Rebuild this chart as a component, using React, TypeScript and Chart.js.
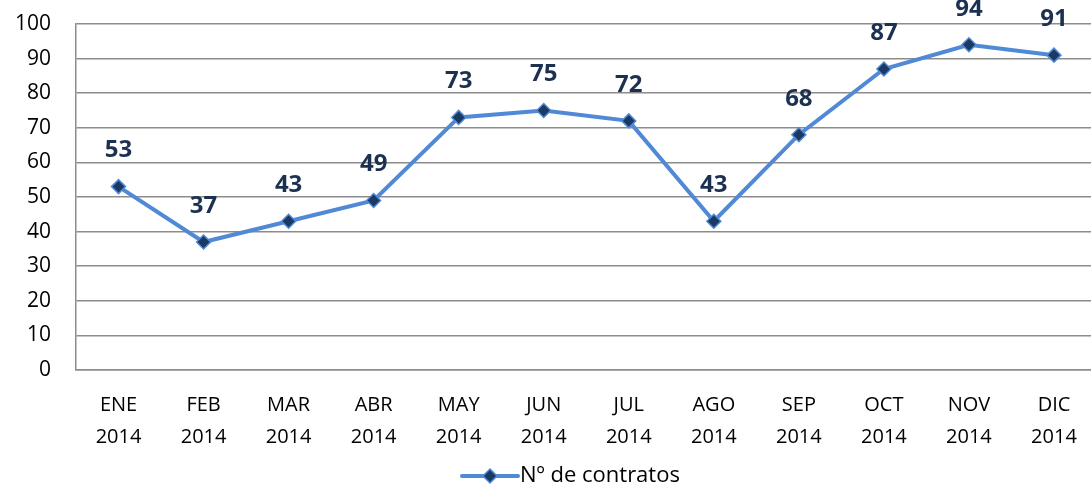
import React, { useEffect, useRef } from "react";
import { Chart, registerables } from "chart.js";
Chart.register(...registerables);

const months = ["ENE", "FEB", "MAR", "ABR", "MAY", "JUN", "JUL", "AGO", "SEP", "OCT", "NOV", "DIC"];
const year = "2014";
const contratos = [53, 37, 43, 49, 73, 75, 72, 43, 68, 87, 94, 91];
const seriesName = "Nº de contratos";
const yMin = 0;
const yMax = 100;
const yStep = 10;

const LINE = "#5089D6";
const MARK = "#1B3A63";
const LABEL = "#1C3150";
const FONT = "'Open Sans', 'Noto Sans', sans-serif";

export default function App() {
  const ref = useRef<HTMLCanvasElement>(null);
  useEffect(() => {
    document.body.style.margin = "0";
    document.body.style.overflow = "hidden";
    const labelsPlugin = {
      id: "valueLabels",
      afterDatasetsDraw(chart: any) {
        const ctx = chart.ctx;
        const meta = chart.getDatasetMeta(0);
        ctx.save();
        ctx.font = `bold 24px ${FONT}`;
        ctx.fillStyle = LABEL;
        ctx.textAlign = "center";
        ctx.textBaseline = "middle";
        meta.data.forEach((pt: any, i: number) => {
          ctx.fillText(String(contratos[i]), pt.x, pt.y - 36);
        });
        ctx.restore();
      },
      afterDraw(chart: any) {
        const ctx = chart.ctx;
        ctx.save();
        const y = 476;
        const lx0 = 462;
        const lx1 = 518;
        ctx.strokeStyle = LINE;
        ctx.lineWidth = 4;
        ctx.lineCap = "round";
        ctx.beginPath();
        ctx.moveTo(lx0, y);
        ctx.lineTo(lx1, y);
        ctx.stroke();
        const mx = (lx0 + lx1) / 2;
        ctx.fillStyle = MARK;
        ctx.strokeStyle = LINE;
        ctx.lineWidth = 1.5;
        ctx.beginPath();
        ctx.moveTo(mx, y - 7);
        ctx.lineTo(mx + 7, y);
        ctx.lineTo(mx, y + 7);
        ctx.lineTo(mx - 7, y);
        ctx.closePath();
        ctx.fill();
        ctx.stroke();
        ctx.font = `22px ${FONT}`;
        ctx.fillStyle = "#000";
        ctx.textAlign = "left";
        ctx.textBaseline = "middle";
        ctx.fillText(seriesName, lx1 + 2, y);
        ctx.restore();
      },
    };
    const chart = new Chart(ref.current!, {
      type: "line",
      data: {
        labels: months.map((m) => [m, year]),
        datasets: [
          {
            label: seriesName,
            data: contratos,
            borderColor: LINE,
            borderWidth: 4,
            pointStyle: "rectRot",
            pointRadius: 7,
            pointBackgroundColor: MARK,
            pointBorderColor: LINE,
            pointBorderWidth: 1.5,
            tension: 0,
          },
        ],
      },
      options: {
        animation: false,
        responsive: false,
        maintainAspectRatio: false,
        layout: { padding: { top: 24, left: 0, right: 0, bottom: 0 } },
        plugins: { legend: { display: false }, tooltip: { enabled: false } },
        scales: {
          x: {
            offset: true,
            grid: { display: false, drawTicks: false },
            border: { display: true, color: "#8C8C8C", width: 1.5 },
            ticks: {
              color: "#000",
              font: { family: FONT, size: 20, lineHeight: 1.6 },
              padding: 19,
              maxRotation: 0,
              autoSkip: false,
            },
            afterFit(scale: any) {
              scale.height = 116;
              scale.paddingLeft = 0;
              scale.paddingRight = 0;
            },
          },
          y: {
            min: yMin,
            max: yMax,
            grid: { color: "#8C8C8C", lineWidth: 1.5, drawTicks: false },
            border: { display: true, color: "#8C8C8C", width: 1.5 },
            ticks: {
              stepSize: yStep,
              color: "#000",
              font: { family: FONT, size: 21 },
              padding: 25,
            },
            afterFit(scale: any) {
              scale.width = 76;
              scale.paddingTop = 0;
              scale.paddingBottom = 0;
            },
          },
        },
      },
      plugins: [labelsPlugin],
    });
    return () => chart.destroy();
  }, []);
  return (
    <div style={{ position: "fixed", left: 0, top: 0, width: 1105, height: 486 }}>
      <canvas ref={ref} width={1105} height={486} style={{ display: "block" }} />
    </div>
  );
}
